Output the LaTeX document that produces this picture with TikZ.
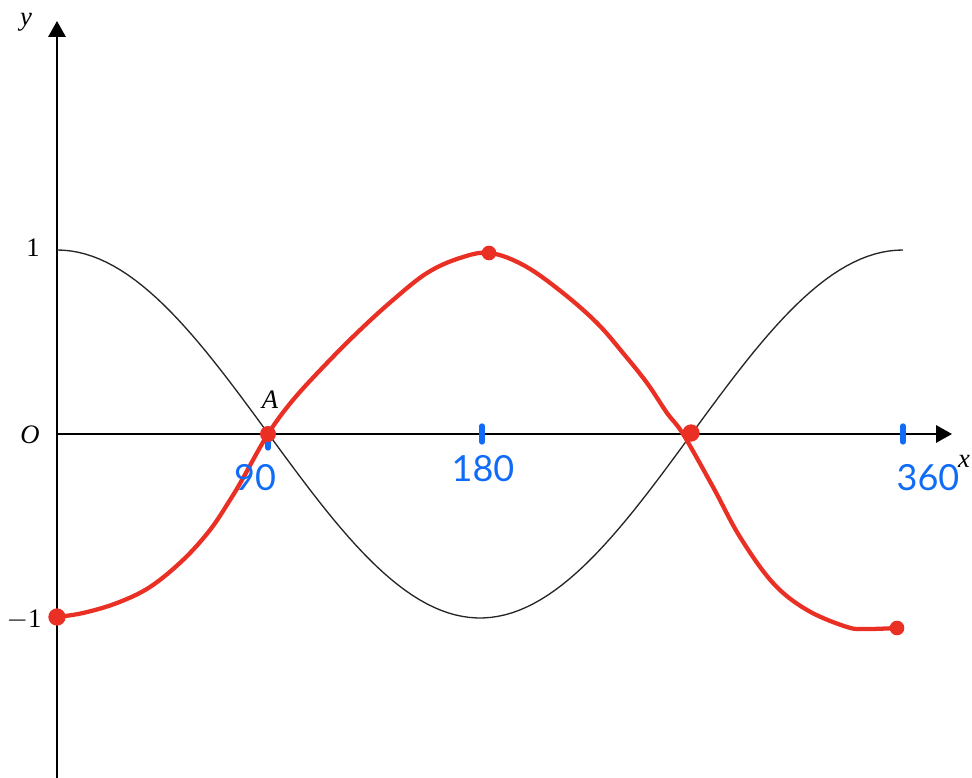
\documentclass[tikz,border=0pt]{standalone}
\usepackage{fontspec}
\setmainfont{Liberation Serif}
\newfontfamily\handfont{Lato}
\usetikzlibrary{arrows.meta}
\definecolor{penred}{RGB}{234,48,36}
\definecolor{penblue}{RGB}{16,108,246}
\tikzset{
  axisline/.style={line width=1.7pt,-{Triangle[length=12pt,width=13pt]}},
  curveline/.style={line width=1.0pt,black!85},
  redline/.style={line width=3.2pt,penred,line cap=round,line join=round},
  reddot/.style={circle,fill=penred,inner sep=0pt,minimum size=12pt},
  bluetick/.style={line width=4pt,penblue,line cap=round},
  bluelabel/.style={text=penblue,font=\handfont\fontsize{27}{27}\selectfont},
  axlabel/.style={font=\fontsize{20}{20}\selectfont},
}
\begin{document}
\begin{tikzpicture}[x=0.75pt,y=0.75pt]
\useasboundingbox (0,0) rectangle (972,778);
% axes
\coordinate (ybot) at (57,0);
\coordinate (ytop) at (57,757);
\coordinate (xleft) at (57,344);
\coordinate (xright) at (952,344);
\draw[axisline] (ybot) -- (ytop);
\draw[axisline] (xleft) -- (xright);
% cosine curve
\draw[curveline,domain=0:360,samples=120] plot ({57+2.35*\x},{344+184*cos(\x)});
% blue ticks
\coordinate (t90a) at (268,336); \coordinate (t90b) at (268,330);
\coordinate (t180a) at (482,352); \coordinate (t180b) at (482,336);
\coordinate (t360a) at (903,352); \coordinate (t360b) at (903,336);
\draw[bluetick] (t90a) -- (t90b);
\draw[bluetick] (t180a) -- (t180b);
\draw[bluetick] (t360a) -- (t360b);
% red curve
\draw[redline] plot[smooth,tension=0.6] coordinates {
 (57,161) (83,165) (117,175) (150,191) (183,218) (210,248) (230,278) (242,298)
 (268,344) (293,378) (327,415) (360,448) (393,478) (427,505) (460,520) (490,525)
 (525,512) (563,485) (597,455) (623,425) (647,395) (667,365) (683,344)
 (713,291) (740,241) (773,195) (807,168) (847,151) (867,149) (897,150)};
% red dots
\node[reddot,minimum size=13pt] (d0) at (57,161) {};
\node[reddot] (d1) at (268,344) {};
\node[reddot,minimum size=11pt] (d2) at (489,525) {};
\node[reddot,minimum size=13pt] (d3) at (691,345) {};
\node[reddot,minimum size=11pt] (d4) at (897,150) {};
% labels
\node[axlabel] (ly) at (26,756) {\itshape y};
\node[axlabel] (lx) at (964,317) {\itshape x};
\node[axlabel] (l1) at (33,530) {1};
\node[axlabel] (lO) at (30,343) {\itshape O};
\node[axlabel] (lm1) at (24,158) {$-$1};
\node[axlabel] (lA) at (270,378) {\itshape A};
% blue labels
\node[bluelabel] (b90) at (255,300) {90};
\node[bluelabel] (b180) at (483,309) {180};
\node[bluelabel] (b360) at (928,300) {360};
\end{tikzpicture}
\end{document}
